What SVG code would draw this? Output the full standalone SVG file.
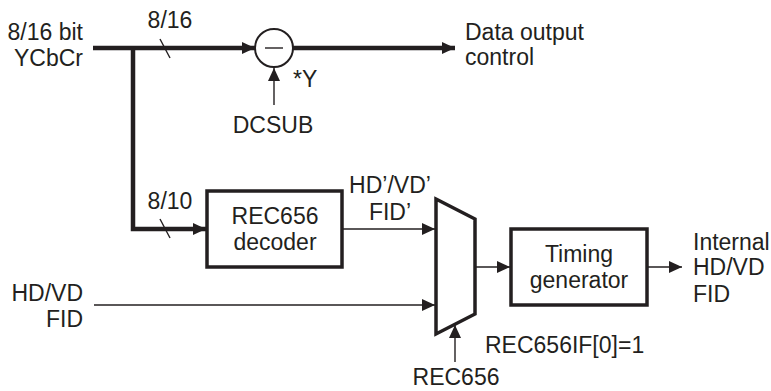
<svg xmlns="http://www.w3.org/2000/svg" width="771" height="391" viewBox="0 0 771 391">
<style>
text{font-family:"Liberation Sans",Arial,Helvetica,sans-serif;font-size:23px;fill:#231f20}
.thick{stroke:#231f20;stroke-width:4.5;fill:none}
.thin{stroke:#231f20;stroke-width:1.4;fill:none}
.box{stroke:#231f20;stroke-width:3.5;fill:#fff}
</style>
<defs>
<marker id="ah" viewBox="0 0 13 12" refX="13" refY="6" markerWidth="13" markerHeight="12" markerUnits="userSpaceOnUse" orient="auto">
<path d="M0,0 L13,6 L0,12 z" fill="#231f20"/>
</marker>
</defs>
<rect width="771" height="391" fill="#fff"/>
<g id="connectors">
<path class="thick" d="M93,48 H255" marker-end="url(#ah)"/>
<path class="thick" d="M293,48 H455" marker-end="url(#ah)"/>
<path class="thick" d="M133,48 V229 H206" marker-end="url(#ah)"/>
<path class="thin" d="M274,105 V68" marker-end="url(#ah)"/>
<path class="thin" d="M342,229 H435" marker-end="url(#ah)"/>
<path class="thin" d="M94,305 H435" marker-end="url(#ah)"/>
<path class="thin" d="M476,267 H510" marker-end="url(#ah)"/>
<path class="thin" d="M647,267 H682" marker-end="url(#ah)"/>
<path class="thin" d="M455,362 V325" marker-end="url(#ah)"/>
<path class="thin" d="M160,39 L170,58"/>
<path class="thin" d="M160,219 L170,238"/>
<text x="170" y="28" text-anchor="middle">8/16</text>
<text x="170" y="209" text-anchor="middle">8/10</text>
<text x="390" y="193" text-anchor="middle">HD’/VD’</text>
<text x="390" y="220" text-anchor="middle">FID’</text>
</g>
<g id="input-ycbcr">
<text x="83" y="40" text-anchor="end">8/16 bit</text>
<text x="83" y="66" text-anchor="end">YCbCr</text>
</g>
<g id="input-hdvd">
<text x="83" y="301" text-anchor="end">HD/VD</text>
<text x="83" y="327" text-anchor="end">FID</text>
</g>
<g id="subtractor">
<circle cx="274" cy="48" r="19" fill="#fff" stroke="#231f20" stroke-width="2"/>
<path class="thin" d="M265,48 H283"/>
<text x="293" y="87">*Y</text>
</g>
<g id="dcsub">
<text x="273" y="133" text-anchor="middle">DCSUB</text>
</g>
<g id="data-output">
<text x="465" y="40">Data output</text>
<text x="465" y="65">control</text>
</g>
<g id="decoder">
<rect class="box" x="207" y="191" width="135" height="76"/>
<text x="275" y="224" text-anchor="middle">REC656</text>
<text x="275" y="250" text-anchor="middle">decoder</text>
</g>
<g id="mux">
<path class="box" d="M436,199 L475,219 L475,314 L436,334 Z"/>
<text x="485" y="353">REC656IF[0]=1</text>
</g>
<g id="rec656">
<text x="456" y="385" text-anchor="middle">REC656</text>
</g>
<g id="timing">
<rect class="box" x="511" y="229" width="136" height="76"/>
<text x="579" y="262" text-anchor="middle">Timing</text>
<text x="579" y="288" text-anchor="middle">generator</text>
</g>
<g id="internal">
<text x="693" y="250">Internal</text>
<text x="693" y="275">HD/VD</text>
<text x="693" y="302">FID</text>
</g>
</svg>
